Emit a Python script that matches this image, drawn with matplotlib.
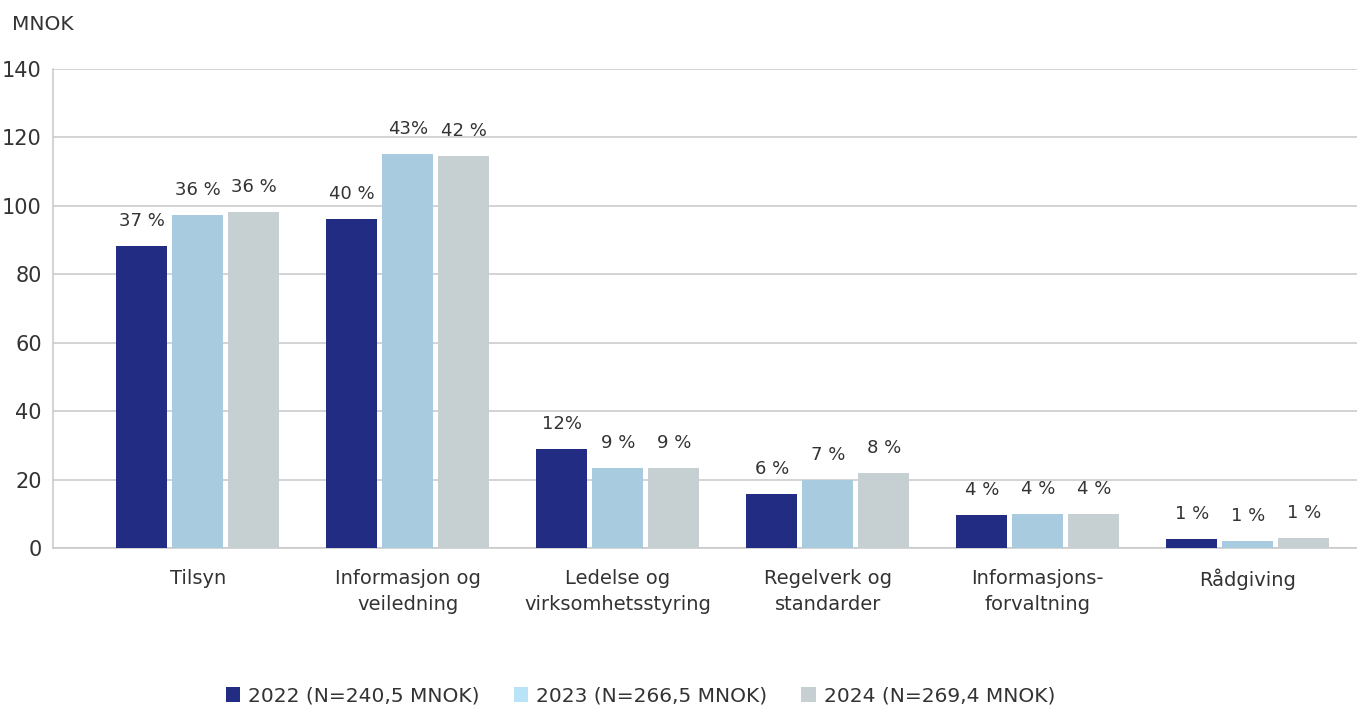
import numpy as np
import matplotlib.pyplot as plt
from matplotlib.patches import Patch

# data (MNOK)
categories = ["Tilsyn", "Informasjon og\nveiledning", "Ledelse og\nvirksomhetsstyring",
              "Regelverk og\nstandarder", "Informasjons-\nforvaltning", "Rådgiving"]
series_names = ["2022 (N=240,5 MNOK)", "2023 (N=266,5 MNOK)", "2024 (N=269,4 MNOK)"]
vals_2022 = [88.3, 96.2, 28.9, 15.8, 9.6, 2.6]
vals_2023 = [97.4, 115.2, 23.4, 19.9, 9.9, 2.0]
vals_2024 = [98.2, 114.6, 23.4, 21.9, 9.9, 2.9]
pct_2022 = ["37 %", "40 %", "12%", "6 %", "4 %", "1 %"]
pct_2023 = ["36 %", "43%", "9 %", "7 %", "4 %", "1 %"]
pct_2024 = ["36 %", "42 %", "9 %", "8 %", "4 %", "1 %"]

bar_colors = ["#212c82", "#a8cbe0", "#c6cfd1"]
legend_colors = ["#212c82", "#b9e3f7", "#c6cfd1"]
txt = "#333333"

plt.rcParams['font.family'] = ['DejaVu Sans']

fig = plt.figure(figsize=(13.57, 7.07), dpi=100)
ax = fig.add_axes([0.039, 0.2249, 0.961, 0.6775])

x = np.arange(len(categories))
width = 0.243
step = 0.267
all_vals = [vals_2022, vals_2023, vals_2024]
all_pct = [pct_2022, pct_2023, pct_2024]
for i, (v, p) in enumerate(zip(all_vals, all_pct)):
    xs = x + (i - 1) * step
    ax.bar(xs, v, width, color=bar_colors[i], zorder=3)
    for xi, vi, pi in zip(xs, v, p):
        ax.annotate(pi, (xi, vi), xytext=(0, 18), textcoords="offset points",
                    ha="center", va="center", fontsize=13, color=txt)

ax.set_xlim(-0.69, 5.52)
ax.set_ylim(0, 140)
ax.set_yticks(range(0, 141, 20))
ax.set_xticks(x)
ax.set_xticklabels(categories, fontsize=14, color=txt, linespacing=1.45)
ax.tick_params(axis="x", length=0, pad=15)
ax.tick_params(axis="y", length=0, pad=8, labelsize=15, labelcolor=txt)
ax.grid(axis="y", color="#c8c8c8", linewidth=1.1, zorder=0)
for s in ["top", "right"]:
    ax.spines[s].set_visible(False)
ax.spines["left"].set_color("#c8c8c8")
ax.spines["left"].set_linewidth(1.1)
ax.spines["bottom"].set_color("#c8c8c8")
ax.spines["bottom"].set_linewidth(1.1)

fig.text(12 / 1357, 1 - 24 / 707, "MNOK", fontsize=14.5, color=txt, va="center", ha="left")

handles = [Patch(facecolor=c, edgecolor="none") for c in legend_colors]
fig.legend(handles, series_names, loc="center", bbox_to_anchor=(0.472, 1 - 696 / 707),
           ncol=3, frameon=False, fontsize=14.5, handlelength=0.7, handleheight=0.7,
           handletextpad=0.4, columnspacing=1.7, labelcolor=txt)

fig.savefig("out.png", dpi=100)
